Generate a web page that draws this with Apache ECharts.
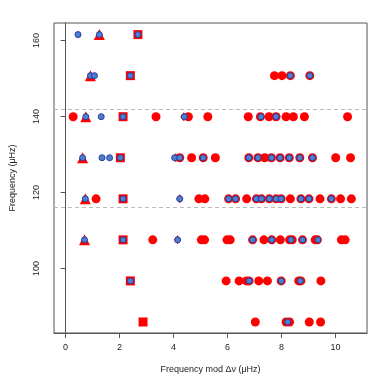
<!DOCTYPE html>
<html><head><meta charset="utf-8">
<script src="https://cdn.jsdelivr.net/npm/echarts@6/dist/echarts.min.js"></script>
<style>html,body{margin:0;padding:0;background:#fff}#c{width:390px;height:390px}</style>
</head><body><div id="c"></div>
<script>
// Échelle diagram data (x = frequency mod Δν, y = frequency), μHz
const xTicks = [0, 2, 4, 6, 8, 10];
const yTicks = [100, 120, 140, 160];
const dashedLevels = [141.9, 116.0];

const redCircles = [
  [7.74,150.75],[8.02,150.75],[8.33,150.75],[9.05,150.75],
  [0.28,139.95],[3.35,139.95],[4.55,139.95],[5.27,139.95],[6.77,139.95],[7.22,139.95],[7.54,139.95],[7.80,139.95],[8.17,139.95],[8.44,139.95],[8.85,139.95],[10.45,139.95],
  [4.23,129.15],[4.67,129.15],[5.10,129.15],[5.55,129.15],[6.79,129.15],[7.13,129.15],[7.38,129.15],[7.63,129.15],[7.95,129.15],[8.29,129.15],[8.68,129.15],[9.15,129.15],[10.01,129.15],[10.56,129.15],
  [1.13,118.35],[4.94,118.35],[5.16,118.35],[6.04,118.35],[6.30,118.35],[6.71,118.35],[7.07,118.35],[7.26,118.35],[7.55,118.35],[7.80,118.35],[7.99,118.35],[8.33,118.35],[8.72,118.35],[9.02,118.35],[9.43,118.35],[9.85,118.35],[10.19,118.35],[10.59,118.35],
  [3.23,107.55],[5.03,107.55],[5.15,107.55],[5.98,107.55],[6.10,107.55],[6.93,107.55],[7.35,107.55],[7.64,107.55],[7.96,107.55],[8.30,107.55],[8.40,107.55],[8.78,107.55],[9.25,107.55],[9.33,107.55],[10.22,107.55],[10.36,107.55],
  [5.95,96.75],[6.43,96.75],[6.70,96.75],[6.80,96.75],[7.16,96.75],[7.48,96.75],[7.99,96.75],[8.64,96.75],[8.72,96.75],[9.46,96.75],
  [7.03,85.95],[8.17,85.95],[8.30,85.95],[9.03,85.95],[9.45,85.95]
];
const redSquares = [[2.68,161.55],[2.40,150.75],[2.13,139.95],[2.03,129.15],[2.13,118.35],[2.13,107.55],[2.40,96.75],[2.87,85.95]];
const redTriangles = [[1.25,161.55],[0.92,150.75],[0.75,139.95],[0.63,129.15],[0.73,118.35],[0.70,107.55]];
const redDiamonds = [[4.38,139.95],[4.08,129.15],[4.23,118.35],[4.15,107.55]];
const blueCircles = [
  [0.46,161.55],[1.25,161.55],[2.68,161.55],
  [0.92,150.75],[1.07,150.75],[2.40,150.75],[8.33,150.75],[9.05,150.75],
  [0.75,139.95],[1.32,139.95],[2.13,139.95],[4.40,139.95],[7.24,139.95],[7.80,139.95],
  [0.63,129.15],[1.35,129.15],[1.63,129.15],[2.03,129.15],[4.04,129.15],[4.23,129.15],[5.10,129.15],[6.79,129.15],[7.13,129.15],[7.63,129.15],[7.95,129.15],[8.29,129.15],[8.68,129.15],[9.15,129.15],
  [0.73,118.35],[2.13,118.35],[4.23,118.35],[6.04,118.35],[6.30,118.35],[7.07,118.35],[7.26,118.35],[7.55,118.35],[7.80,118.35],[7.99,118.35],[8.72,118.35],[9.02,118.35],[9.85,118.35],
  [0.70,107.55],[2.13,107.55],[4.15,107.55],[6.93,107.55],[7.64,107.55],[8.35,107.55],[8.78,107.55],[9.35,107.55],
  [2.40,96.75],[6.80,96.75],[7.99,96.75],[8.70,96.75],
  [8.23,85.95]
];

const RED = '#ff0000';
const FONT = 'Liberation Sans';
const chart = echarts.init(document.getElementById('c'), null, {renderer: 'canvas'});
chart.setOption({
  animation: false,
  backgroundColor: '#fff',
  grid: {left: 50, right: 23, top: 23, bottom: 57, show: true, borderColor: '#555', borderWidth: 1},
  xAxis: {
    type: 'value', min: -0.43, max: 11.17,
    name: 'Frequency mod Δν (μHz)', nameLocation: 'middle', nameGap: 32,
    nameTextStyle: {fontFamily: FONT, fontSize: 9, color: '#222'},
    axisLine: {show: true, lineStyle: {color: '#555'}},
    axisTick: {show: true, inside: false, length: 5, lineStyle: {color: '#555'}, customValues: xTicks},
    axisLabel: {fontFamily: FONT, fontSize: 9, color: '#222', margin: 10, customValues: xTicks},
    splitLine: {show: false}
  },
  yAxis: {
    type: 'value', min: 83.05, max: 164.6,
    name: 'Frequency (μHz)', nameLocation: 'middle', nameGap: 37,
    nameTextStyle: {fontFamily: FONT, fontSize: 9, color: '#222'},
    axisLine: {show: true, lineStyle: {color: '#555'}},
    axisTick: {show: true, inside: false, length: 5, lineStyle: {color: '#555'}, customValues: yTicks},
    axisLabel: {fontFamily: FONT, fontSize: 9, color: '#222', margin: 13, rotate: 90, customValues: yTicks},
    splitLine: {show: false}
  },
  series: [
    {type: 'scatter', data: [], silent: true,
     markLine: {silent: true, symbol: 'none', label: {show: false},
       lineStyle: {color: '#bbb', type: [4, 3], width: 1},
       data: dashedLevels.map(v => ({yAxis: v}))}},
    {type: 'scatter', data: redCircles, symbol: 'circle', symbolSize: 9, itemStyle: {color: RED, opacity: 1}},
    {type: 'scatter', data: redSquares, symbol: 'rect', symbolSize: 9, itemStyle: {color: RED, opacity: 1}},
    {type: 'scatter', data: redTriangles, symbol: 'triangle', symbolSize: 11, itemStyle: {color: RED, opacity: 1}},
    {type: 'scatter', data: redDiamonds, symbol: 'diamond', symbolSize: [7, 9], itemStyle: {color: RED, opacity: 1}},
    {type: 'scatter', data: blueCircles, symbol: 'circle', symbolSize: 6, itemStyle: {color: '#4d7ed2', borderColor: '#2a3c96', borderWidth: 1, opacity: 1}}
  ]
});
</script></body></html>
